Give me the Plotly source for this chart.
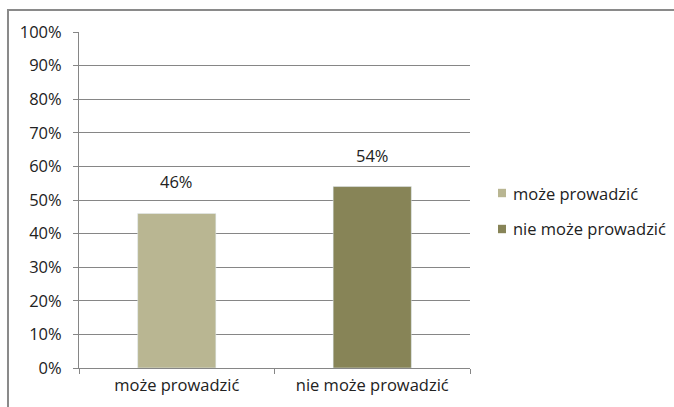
import plotly.graph_objects as go

categories = ["może prowadzić", "nie może prowadzić"]
values = [46, 54]
colors = ["#B9B692", "#878457"]
y_ticks = list(range(0, 101, 10))
y_tick_labels = [f"{t}%" for t in y_ticks]

FONT = "Open Sans, sans-serif"
TEXT = "#222222"
FS = 16.5

fig = go.Figure()
for cat, val, col in zip(categories, values, colors):
    fig.add_trace(go.Bar(
        x=[cat], y=[val], name=cat, marker_color=col,
        width=0.4, hoverinfo="skip", showlegend=False,
    ))
    fig.add_annotation(
        x=cat, y=val, text=f"{val}%", showarrow=False,
        yanchor="bottom", yshift=18, font=dict(size=FS, color=TEXT, family=FONT),
    )

# Legend drawn on the right: small colour squares with series names
shapes = [dict(
    type="rect", xref="paper", yref="paper",
    x0=-0.1816, x1=1.55, y0=-0.14, y1=1.0655,
    line=dict(color="#8A8A8A", width=2), layer="below",
)]
legend_y = [0.5208, 0.4137]
for cat, col, ly in zip(categories, colors, legend_y):
    shapes.append(dict(
        type="rect", xref="paper", yref="paper",
        x0=1.0716, x1=1.0921, y0=ly - 0.0125, y1=ly + 0.0125,
        fillcolor=col, line=dict(width=0),
    ))
    fig.add_annotation(
        xref="paper", yref="paper", x=1.1049, y=ly, text=cat,
        showarrow=False, xanchor="left", yanchor="middle",
        font=dict(size=FS, color=TEXT, family=FONT),
    )

fig.update_layout(
    width=674, height=407,
    margin=dict(l=79, r=204, t=32, b=39),
    paper_bgcolor="white", plot_bgcolor="white",
    barmode="overlay",
    font=dict(family=FONT, size=FS, color=TEXT),
    showlegend=False,
    xaxis=dict(
        type="category", categoryorder="array", categoryarray=categories,
        showline=True, linecolor="#868686", linewidth=1,
        ticks="outside", tickson="boundaries", ticklen=5, tickcolor="#868686",
        showgrid=False, range=[-0.5, 1.5], ticklabelstandoff=2,
    ),
    yaxis=dict(
        range=[0, 100], tickvals=y_ticks, ticktext=y_tick_labels,
        showline=True, linecolor="#868686", linewidth=1,
        ticks="outside", ticklen=5, tickcolor="#868686",
        showgrid=True, gridcolor="#868686", gridwidth=1,
        zeroline=False, ticklabelstandoff=8,
    ),
    shapes=shapes,
)

fig.write_html("out.html")
